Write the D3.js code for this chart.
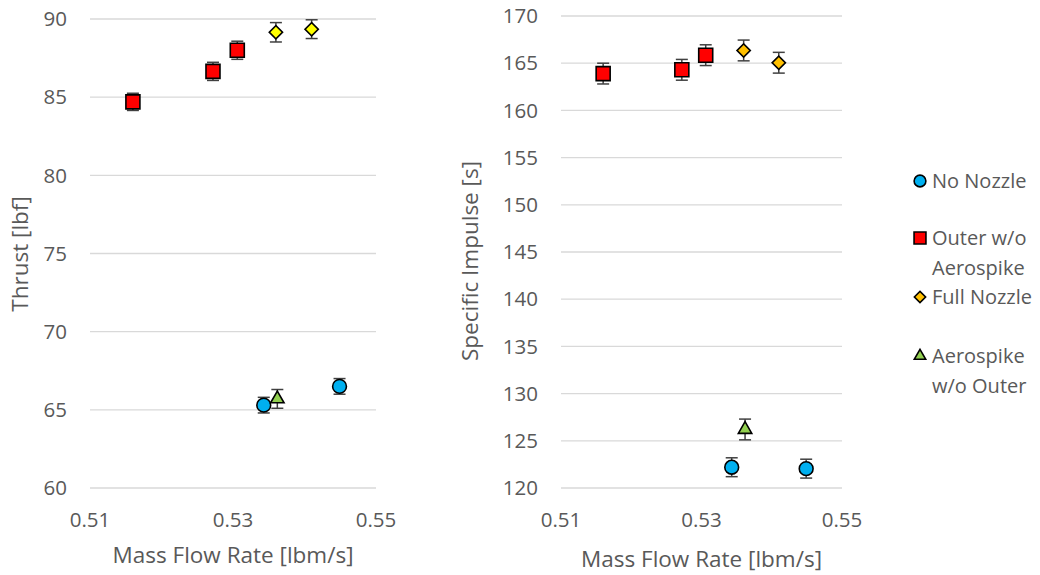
<!DOCTYPE html>
<html>
<head>
<meta charset="utf-8">
<script src="https://cdn.jsdelivr.net/npm/d3@7"></script>
<style>
  body { margin: 0; background: #fff; }
  svg { font-family: "Open Sans", Lato, sans-serif; }
  .tick-label { fill: #595959; font-size: 20.5px; }
  .axis-title { fill: #595959; font-size: 22.5px; }
  .legend-text { fill: #595959; font-size: 20px; }
</style>
</head>
<body>
<svg id="chart" width="1040" height="575"></svg>
<script>
// --- Data ---
const seriesNames = ["No Nozzle", "Outer w/o Aerospike", "Full Nozzle", "Aerospike w/o Outer"];

// mass flow rate [lbm/s]
const noNozzleFlow = [0.5343, 0.5449];
const outerFlow = [0.5160, 0.5272, 0.5306];
const fullFlow = [0.5360, 0.5410];
const aeroFlow = [0.5362];

// thrust [lbf] and its uncertainty
const noNozzleThrust = [65.3, 66.5];
const outerThrust = [84.7, 86.65, 88.0];
const fullThrust = [89.15, 89.35];
const aeroThrust = [65.7];
const noNozzleThrustErr = [0.5, 0.5];
const outerThrustErr = [0.55, 0.58, 0.58];
const fullThrustErr = [0.62, 0.6];
const aeroThrustErr = [0.6];

// specific impulse [s] and its uncertainty
const noNozzleIsp = [122.2, 122.05];
const outerIsp = [163.9, 164.3, 165.85];
const fullIsp = [166.35, 165.05];
const aeroIsp = [126.2];
const noNozzleIspErr = [1.0, 1.0];
const outerIspErr = [1.1, 1.1, 1.1];
const fullIspErr = [1.1, 1.1];
const aeroIspErr = [1.1];

const xTicks = [0.51, 0.53, 0.55];
const thrustTicks = [60, 65, 70, 75, 80, 85, 90];
const ispTicks = [120, 125, 130, 135, 140, 145, 150, 155, 160, 165, 170];

// --- Setup ---
const svg = d3.select("#chart");

const styles = {
  "No Nozzle": { shape: "circle", fill: "#00B0F0" },
  "Outer w/o Aerospike": { shape: "square", fill: "#FF0000" },
  "Full Nozzle": { shape: "diamond", fill: "#FFC000" },
  "Aerospike w/o Outer": { shape: "triangle", fill: "#92D050" }
};

function symbolPath(shape, scale) {
  const s = scale || 1;
  if (shape === "circle") return d3.symbol(d3.symbolCircle, 150 * s * s)();
  if (shape === "square") return d3.symbol(d3.symbolSquare, 196 * s * s)();
  if (shape === "diamond") return d3.symbol(d3.symbolSquare, 88 * s * s)();
  return d3.symbol(d3.symbolTriangle, 78 * s * s)();
}

function buildPoints(flows, values, errs, name) {
  return flows.map((f, i) => ({ name: name, x: f, y: values[i], err: errs[i] }));
}

function drawPanel(opts) {
  const { left, right, top, bottom, yDomain, yTicks, yTitle, yTitleX, yTitleY, xTitleY, data, diamondFill } = opts;

  const x = d3.scaleLinear().domain([0.51, 0.55]).range([left, right]);
  const y = d3.scaleLinear().domain(yDomain).range([bottom, top]);
  const g = svg.append("g");

  // gridlines
  g.append("g").selectAll("line")
    .data(yTicks)
    .enter().append("line")
    .attr("x1", left).attr("x2", right)
    .attr("y1", d => y(d)).attr("y2", d => y(d))
    .attr("stroke", "#d9d9d9")
    .attr("stroke-width", 1.3);

  // y tick labels
  g.append("g").selectAll("text")
    .data(yTicks)
    .enter().append("text")
    .attr("class", "tick-label")
    .attr("x", left - 23)
    .attr("y", d => y(d))
    .attr("dy", "0.35em")
    .attr("text-anchor", "end")
    .text(d => d);

  // x tick labels
  g.append("g").selectAll("text")
    .data(xTicks)
    .enter().append("text")
    .attr("class", "tick-label")
    .attr("x", d => x(d))
    .attr("y", bottom + 32)
    .attr("dy", "0.35em")
    .attr("text-anchor", "middle")
    .text(d => d3.format(".2f")(d));

  // axis titles
  g.append("text")
    .attr("class", "axis-title")
    .attr("x", (left + right) / 2)
    .attr("y", xTitleY)
    .attr("text-anchor", "middle")
    .text("Mass Flow Rate [lbm/s]");

  g.append("text")
    .attr("class", "axis-title")
    .attr("transform", `translate(${yTitleX},${yTitleY}) rotate(-90)`)
    .attr("text-anchor", "middle")
    .text(yTitle);

  // error bars
  const eb = g.append("g").selectAll("g")
    .data(data)
    .enter().append("g")
    .attr("stroke", "#404040")
    .attr("stroke-width", 1.5);
  eb.append("line")
    .attr("x1", d => x(d.x)).attr("x2", d => x(d.x))
    .attr("y1", d => y(d.y - d.err)).attr("y2", d => y(d.y + d.err));
  eb.append("line")
    .attr("x1", d => x(d.x) - 6).attr("x2", d => x(d.x) + 6)
    .attr("y1", d => y(d.y - d.err)).attr("y2", d => y(d.y - d.err));
  eb.append("line")
    .attr("x1", d => x(d.x) - 6).attr("x2", d => x(d.x) + 6)
    .attr("y1", d => y(d.y + d.err)).attr("y2", d => y(d.y + d.err));

  // markers
  g.append("g").selectAll("path")
    .data(data)
    .enter().append("path")
    .attr("d", d => symbolPath(styles[d.name].shape))
    .attr("transform", d => {
      const rot = styles[d.name].shape === "diamond" ? " rotate(45)" : "";
      return `translate(${x(d.x)},${y(d.y)})${rot}`;
    })
    .attr("fill", d => (styles[d.name].shape === "diamond" && diamondFill) ? diamondFill : styles[d.name].fill)
    .attr("stroke", "#000")
    .attr("stroke-width", 1.6);
}

const thrustData = [
  ...buildPoints(noNozzleFlow, noNozzleThrust, noNozzleThrustErr, seriesNames[0]),
  ...buildPoints(outerFlow, outerThrust, outerThrustErr, seriesNames[1]),
  ...buildPoints(fullFlow, fullThrust, fullThrustErr, seriesNames[2]),
  ...buildPoints(aeroFlow, aeroThrust, aeroThrustErr, seriesNames[3])
];

const ispData = [
  ...buildPoints(noNozzleFlow, noNozzleIsp, noNozzleIspErr, seriesNames[0]),
  ...buildPoints(outerFlow, outerIsp, outerIspErr, seriesNames[1]),
  ...buildPoints(fullFlow, fullIsp, fullIspErr, seriesNames[2]),
  ...buildPoints(aeroFlow, aeroIsp, aeroIspErr, seriesNames[3])
];

drawPanel({
  left: 90, right: 376, top: 19, bottom: 488,
  yDomain: [60, 90], yTicks: thrustTicks,
  yTitle: "Thrust [lbf]", yTitleX: 28, yTitleY: 254, xTitleY: 563,
  data: thrustData, diamondFill: "#FFFF00"
});

drawPanel({
  left: 561, right: 842, top: 16, bottom: 488,
  yDomain: [120, 170], yTicks: ispTicks,
  yTitle: "Specific Impulse [s]", yTitleX: 478, yTitleY: 261, xTitleY: 567,
  data: ispData
});

// --- Legend ---
const legendRows = [
  { name: seriesNames[0], y: 181, lines: ["No Nozzle"] },
  { name: seriesNames[1], y: 238, lines: ["Outer w/o", "Aerospike"] },
  { name: seriesNames[2], y: 297, lines: ["Full Nozzle"] },
  { name: seriesNames[3], y: 356, lines: ["Aerospike", "w/o Outer"] }
];

const legend = svg.append("g");
const rows = legend.selectAll("g")
  .data(legendRows)
  .enter().append("g")
  .attr("transform", d => `translate(0,${d.y})`);

rows.append("path")
  .attr("d", d => symbolPath(styles[d.name].shape, 0.85))
  .attr("transform", d => styles[d.name].shape === "diamond" ? "translate(920,0) rotate(45)" : "translate(920,0)")
  .attr("fill", d => styles[d.name].fill)
  .attr("stroke", "#000")
  .attr("stroke-width", 1.6);

rows.append("text")
  .attr("class", "legend-text")
  .attr("x", 932)
  .selectAll("tspan")
  .data(d => d.lines)
  .enter().append("tspan")
  .attr("x", 932)
  .attr("y", (d, i) => i * 30)
  .attr("dy", "0.35em")
  .text(d => d);
</script>
</body>
</html>
